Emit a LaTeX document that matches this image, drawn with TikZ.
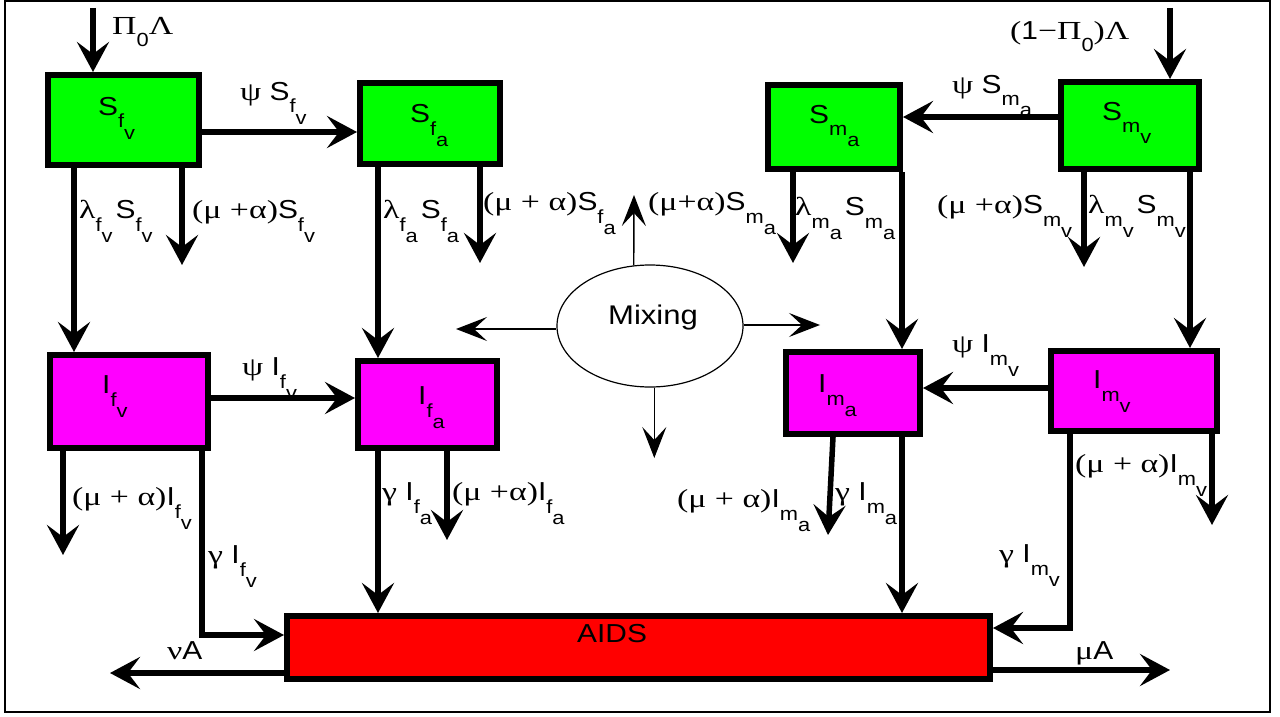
\documentclass[tikz,border=0pt]{standalone}
\usepackage{fontspec}
\setmainfont[FakeStretch=1.15]{Liberation Sans}
\newfontfamily\gk[FakeStretch=1.3]{Liberation Serif}
\usetikzlibrary{arrows.meta,shapes.geometric}
\definecolor{bgreen}{RGB}{0,255,0}
\definecolor{bmag}{RGB}{255,0,255}
\definecolor{bred}{RGB}{255,0,0}
\newcommand\SB[3]{#1\raisebox{-13pt}{\fontsize{19}{19}\selectfont #2\raisebox{-11pt}{#3}}}
\newcommand\SZ{\raisebox{-12pt}{\fontsize{19}{19}\selectfont 0}}
\newcommand\gap{\hspace{3pt}}
\tikzset{
  comp/.style={draw, line width=6pt, inner sep=0pt, outer sep=3pt},
  sus/.style={comp, fill=bgreen},
  inf/.style={comp, fill=bmag},
  flow/.style={line width=5.5pt, -{Stealth[length=30pt,width=32pt,inset=12pt]}},
  thinflow/.style={line width=1.4pt, -{Stealth[length=31pt,width=24pt,inset=13pt]}},
  lab/.style={anchor=base west, inner sep=0pt},
}
\begin{document}
\begin{tikzpicture}[x=1pt,y=-1pt,font=\fontsize{26}{30}\selectfont]
\useasboundingbox (0,0) rectangle (1280,717);
\draw[line width=1.5pt] (5,1) rectangle (1270,712);

% compartments
\node[sus, minimum width=151pt, minimum height=90pt] (Sfv) at (123.5,120) {};
\node[sus, minimum width=140pt, minimum height=81pt] (Sfa) at (430,123.5) {};
\node[sus, minimum width=132pt, minimum height=84pt] (Sma) at (834,127) {};
\node[sus, minimum width=138pt, minimum height=87pt] (Smv) at (1130,125.5) {};
\node[inf, minimum width=158pt, minimum height=93pt] (Ifv) at (129,401.5) {};
\node[inf, minimum width=139pt, minimum height=87pt] (Ifa) at (427.5,404.5) {};
\node[inf, minimum width=134pt, minimum height=82pt] (Ima) at (853,393) {};
\node[inf, minimum width=166pt, minimum height=80pt] (Imv) at (1134,391) {};
\node[comp, fill=bred, minimum width=703pt, minimum height=63pt] (A) at (638.5,647.5) {};
\node[draw, ellipse, line width=1.2pt, minimum width=186pt, minimum height=122pt, inner sep=0pt] (Mix) at (650,326) {};

% compartment texts
\node[lab] (tSfv) at (98,115) {\SB{S}{f}{v}};
\node[lab] (tSfa) at (410,122) {\SB{S}{f}{a}};
\node[lab] (tSma) at (809,123) {\SB{S}{m}{a}};
\node[lab] (tSmv) at (1102,120) {\SB{S}{m}{v}};
\node[lab] (tIfv) at (102,393) {\SB{I}{f}{v}};
\node[lab] (tIfa) at (418,404) {\SB{I}{f}{a}};
\node[lab] (tIma) at (818,392) {\SB{I}{m}{a}};
\node[lab] (tImv) at (1093,388) {\SB{I}{m}{v}};
\node[lab] (tA) at (577,642) {AIDS};
\node[lab] (tMix) at (608,324) {\fontsize{27}{30}\selectfont Mixing};

% helper coordinates
\coordinate (inL) at (93,8);
\coordinate (inR) at (1170,8);
\coordinate (h1) at (0,132);
\coordinate (h2) at (0,117);
\coordinate (h3) at (0,398);
\coordinate (h4) at (0,388);
\coordinate (v1) at (74,0);
\coordinate (v3) at (378,0);
\coordinate (v4) at (902,0);
\coordinate (v5) at (1190,0);
\coordinate (d1) at (182,265);
\coordinate (d2) at (480,263);
\coordinate (d3) at (793,263);
\coordinate (d4) at (1084,267);
\coordinate (d5) at (63,555);
\coordinate (d6) at (447,540);
\coordinate (d7s) at (833,0);
\coordinate (d7) at (828,535);
\coordinate (d8) at (1212,525);
\coordinate (c1) at (202,635);
\coordinate (c2) at (1070,628);
\coordinate (o1) at (110,673);
\coordinate (o2) at (1170,670);
\coordinate (mu) at (634,195);
\coordinate (ml) at (456,329);
\coordinate (mr) at (820,325);
\coordinate (md) at (0,458);

% flows
\draw[flow] (inL) -- (inL |- Sfv.north);
\draw[flow] (inR) -- (inR |- Smv.north);
\draw[flow] (Sfv.east |- h1) -- (Sfa.west |- h1);
\draw[flow] (Smv.west |- h2) -- (Sma.east |- h2);
\draw[flow] (v1 |- Sfv.south) -- (v1 |- Ifv.north);
\draw[flow] (d1 |- Sfv.south) -- (d1);
\draw[flow] (v3 |- Sfa.south) -- (v3 |- Ifa.north);
\draw[flow] (d2 |- Sfa.south) -- (d2);
\draw[flow] (d3 |- Sma.south) -- (d3);
\draw[flow] (v4 |- Sma.south) -- (v4 |- Ima.north);
\draw[flow] (d4 |- Smv.south) -- (d4);
\draw[flow] (v5 |- Smv.south) -- (v5 |- Imv.north);
\draw[flow] (Ifv.east |- h3) -- (Ifa.west |- h3);
\draw[flow] (Imv.west |- h4) -- (Ima.east |- h4);
\draw[flow] (d5 |- Ifv.south) -- (d5);
\draw[flow] (c1 |- Ifv.south) -- (c1) -- (c1 -| A.west);
\draw[flow] (v3 |- Ifa.south) -- (v3 |- A.north);
\draw[flow] (d6 |- Ifa.south) -- (d6);
\draw[flow] (d7s |- Ima.south) -- (d7);
\draw[flow] (v4 |- Ima.south) -- (v4 |- A.north);
\draw[flow] (d8 |- Imv.south) -- (d8);
\draw[flow] (c2 |- Imv.south) -- (c2) -- (c2 -| A.east);
\draw[flow] (o1 -| A.west) -- (o1);
\draw[flow] (o2 -| A.east) -- (o2);

% mixing arrows
\draw[thinflow] (Mix.105) -- (mu);
\draw[thinflow] (ml -| Mix.west) -- (ml);
\draw[thinflow] (mr -| Mix.east) -- (mr);
\draw[thinflow] (Mix.274) -- (Mix.274 |- md);

% flow labels
\node[lab] (l1) at (112,35) {{\gk Π}\SZ{\gk Λ}};
\node[lab] (l2) at (240,100) {{\gk ψ} \SB{S}{f}{v}};
\node[lab] (l3) at (79,218) {\SB{{\gk λ}}{f}{v}\gap\SB{S}{f}{v}};
\node[lab] (l4) at (192,218) {{\gk (μ +α)}\SB{S}{f}{v}};
\node[lab] (l5) at (383,218) {\SB{{\gk λ}}{f}{a}\gap\SB{S}{f}{a}};
\node[lab] (l6) at (483,210) {{\gk (μ + α)}\SB{S}{f}{a}};
\node[lab] (l7) at (648,210) {{\gk (μ+α)}\SB{S}{m}{a}};
\node[lab] (l8) at (795,215) {\SB{{\gk λ}}{m}{a}\gap\SB{S}{m}{a}};
\node[lab] (l9) at (952,93) {{\gk ψ} \SB{S}{m}{a}};
\node[lab] (l10) at (1010,40) {{\gk (}1{\gk −Π}\SZ{\gk )Λ}};
\node[lab] (l11) at (937,213) {{\gk (μ +α)}\SB{S}{m}{v}};
\node[lab] (l12) at (1088,213) {\SB{{\gk λ}}{m}{v}\gap\SB{S}{m}{v}};
\node[lab] (l13) at (242,375) {{\gk ψ} \SB{I}{f}{v}};
\node[lab] (l14) at (72,505) {{\gk (μ + α)}\SB{I}{f}{v}};
\node[lab] (l15) at (208,563) {{\gk γ} \SB{I}{f}{v}};
\node[lab] (l16) at (382,500) {{\gk γ} \SB{I}{f}{a}};
\node[lab] (l17) at (452,500) {{\gk (μ +α)}\SB{I}{f}{a}};
\node[lab] (l18) at (677,507) {{\gk (μ + α)}\SB{I}{m}{a}};
\node[lab] (l19) at (835,500) {{\gk γ} \SB{I}{m}{a}};
\node[lab] (l20) at (952,352) {{\gk ψ} \SB{I}{m}{v}};
\node[lab] (l21) at (1075,472) {{\gk (μ + α)}\SB{I}{m}{v}};
\node[lab] (l22) at (999,562) {{\gk γ} \SB{I}{m}{v}};
\node[lab] (l23) at (167,659) {{\gk ν}A};
\node[lab] (l24) at (1075,659) {{\gk μ}A};
\end{tikzpicture}
\end{document}
